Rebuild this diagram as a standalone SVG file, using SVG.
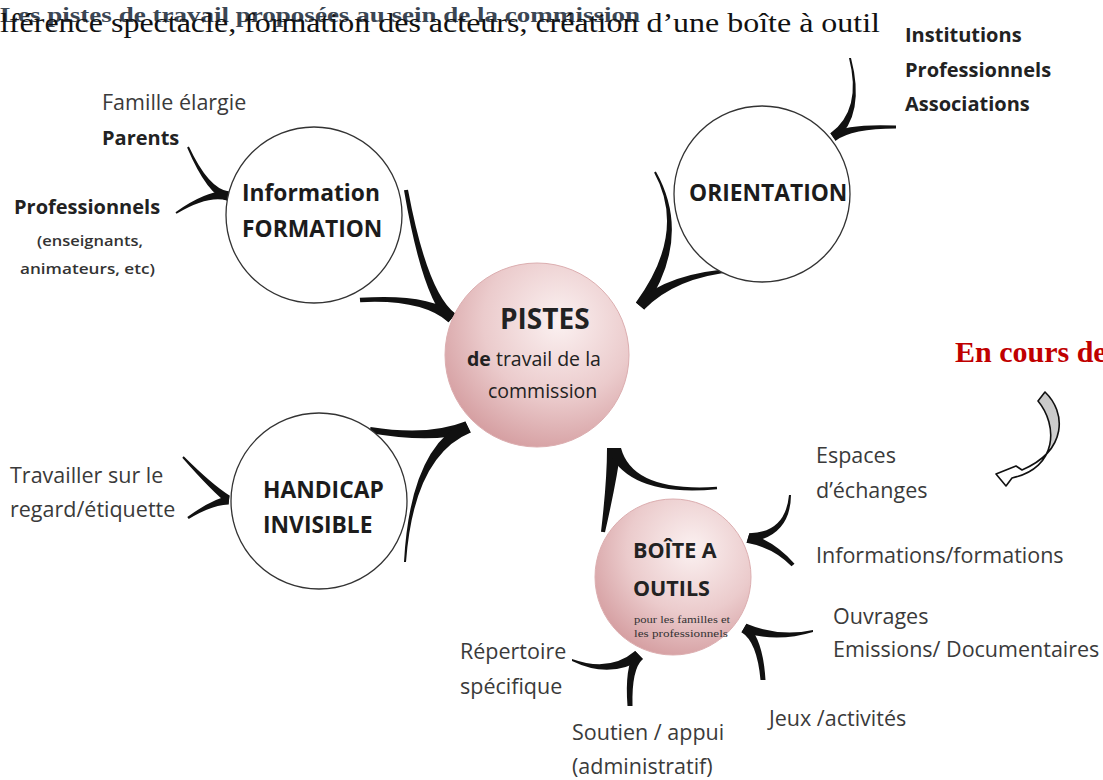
<svg xmlns="http://www.w3.org/2000/svg" width="1103" height="780" viewBox="0 0 1103 780">
<defs>
<radialGradient id="pink" cx="0.62" cy="0.32" r="0.75">
<stop offset="0" stop-color="#fbf1f1"/>
<stop offset="0.55" stop-color="#ebcbcc"/>
<stop offset="1" stop-color="#d39a9d"/>
</radialGradient>
<linearGradient id="arrowFill" x1="0" y1="0" x2="0" y2="1">
<stop offset="0" stop-color="#c8c8c8"/>
<stop offset="0.55" stop-color="#d0d0d0"/>
<stop offset="0.7" stop-color="#ffffff"/>
<stop offset="1" stop-color="#ffffff"/>
</linearGradient>
</defs>
<style>
.lbl{font-family:"Open Sans","DejaVu Sans",sans-serif;font-size:21.5px;fill:#3a3a3a}
.lblb{font-family:"Open Sans","DejaVu Sans",sans-serif;font-size:20px;font-weight:bold;fill:#222}
.sm{font-family:"Open Sans","DejaVu Sans",sans-serif;font-size:14px;font-weight:600;fill:#333}
.ttl{font-family:"Open Sans","DejaVu Sans",sans-serif;font-size:22.8px;font-weight:bold;fill:#1c1c1c}
.ctr{font-family:"Open Sans","DejaVu Sans",sans-serif;fill:#222}
.tiny{font-family:"Liberation Serif",serif;font-size:11px;fill:#333}
.wc{fill:#fff;stroke:#333;stroke-width:1.3}
.pc{fill:url(#pink);stroke:#dcaeb0;stroke-width:1}
.br{fill:#111;stroke:none}
</style>
<rect width="1103" height="780" fill="#fff"/>
<g id="header">
<text x="0" y="22" font-family="'Liberation Serif',serif" font-size="22" font-weight="bold" fill="#3b4653" textLength="640" lengthAdjust="spacingAndGlyphs">Les pistes de travail proposées au sein de la commission</text>
<text x="0" y="32" font-family="'Liberation Serif',serif" font-size="27" fill="#111" textLength="880" lengthAdjust="spacingAndGlyphs">lférence spectacle, formation des acteurs, création d’une boîte à outil</text>
</g>
<g id="connectors">
<path class="br" d="M187.1,147.4 Q207.4,195.1 227.1,200.4 L228.9,191.6 Q208.6,188.9 188.9,146.6 Z"/>
<path class="br" d="M176.5,213.8 Q207.4,195.1 227.1,200.4 L228.9,191.6 Q208.6,188.9 175.5,212.2 Z"/>
<path class="br" d="M404,190.3 Q422.6,299 448.5,322.3 L455.5,313.7 Q427.4,293 408,189.7 Z"/>
<path class="br" d="M360.2,302.2 Q422.6,299 448.5,322.3 L455.5,313.7 Q427.4,293 359.8,297.8 Z"/>
<path class="br" d="M849,57.9 Q862.2,109.4 830.4,133.3 L835.6,140.7 Q865.8,114.6 851,58.1 Z"/>
<path class="br" d="M896,125.5 Q848.2,123.4 830.4,133.3 L835.6,140.7 Q851.8,128.6 896,128.5 Z"/>
<path class="br" d="M654.1,172.5 Q687.1,232.5 635.9,302.4 L644.2,309.6 Q692.9,237.5 655.9,171.5 Z"/>
<path class="br" d="M734.9,268.5 Q669.1,272.5 635.9,302.4 L644.2,309.6 Q674.9,277.5 735.1,271.5 Z"/>
<path class="br" d="M182.3,457.7 Q211.6,491.1 228.5,504.5 L229.5,495.5 Q212.4,484.9 183.7,456.3 Z"/>
<path class="br" d="M188.7,519 Q211.6,505.1 228.5,504.5 L229.5,495.5 Q212.4,498.9 187.3,517 Z"/>
<path class="br" d="M369.5,433 Q431.9,443.75 470.7,432.4 L465.3,421.6 Q428.1,436.25 370.5,427 Z"/>
<path class="br" d="M406,562 Q413.9,455.75 470.7,432.4 L465.3,421.6 Q410.1,448.25 404,562 Z"/>
<path class="br" d="M605,532.3 Q616.9,480 621,448 L607,448 Q607.1,480 601,531.7 Z"/>
<path class="br" d="M716.9,486.8 Q632.8,492.2 621,448 L607,448 Q627.2,497.8 717.1,489.2 Z"/>
<path class="br" d="M789,495 Q785.5,532.5 749.4,533.2 L746.6,542.8 Q790.5,537.5 791,495 Z"/>
<path class="br" d="M794.5,563.7 Q776.2,542.3 749.4,533.2 L746.6,542.8 Q773.8,547.7 791.5,566.3 Z"/>
<path class="br" d="M813,630 Q778.9,637.2 746.5,623.7 L741.5,632.3 Q777.1,642.9 813,632 Z"/>
<path class="br" d="M765.5,680 Q763,638.25 746.5,623.7 L741.5,632.3 Q757,641.75 760.5,680 Z"/>
<path class="br" d="M572,661 Q610,679.5 642.9,658.9 L635.1,651.1 Q610,672.5 572,659 Z"/>
<path class="br" d="M632.5,706 Q631.5,668.7 642.9,658.9 L635.1,651.1 Q624.5,667.3 627.5,706 Z"/>
</g>
<g id="node-info">
<circle class="wc" cx="314" cy="215" r="88"/>
<text class="ttl" x="242" y="201">Information</text>
<text class="ttl" x="242" y="237">FORMATION</text>
</g>
<g id="node-orientation">
<circle class="wc" cx="762" cy="194" r="88"/>
<text class="ttl" x="689" y="201">ORIENTATION</text>
</g>
<g id="node-pistes">
<circle class="pc" cx="537" cy="355" r="92"/>
<text class="ctr" x="500" y="329" font-size="28" font-weight="bold" fill="#1c1c1c">PISTES</text>
<text class="ctr" x="467" y="366" font-size="19.5"><tspan font-weight="bold">de</tspan> travail de la</text>
<text class="ctr" x="488" y="398" font-size="19.5">commission</text>
</g>
<g id="node-handicap">
<circle class="wc" cx="319" cy="501" r="88"/>
<text class="ttl" x="263" y="498">HANDICAP</text>
<text class="ttl" x="263" y="533">INVISIBLE</text>
</g>
<g id="node-boite">
<circle class="pc" cx="673" cy="577" r="78"/>
<text class="ctr" x="633" y="558" font-size="21.5" font-weight="bold" fill="#1c1c1c">BOÎTE A</text>
<text class="ctr" x="633" y="596" font-size="21.5" font-weight="bold" fill="#1c1c1c">OUTILS</text>
<text class="tiny" x="634" y="623" textLength="96" lengthAdjust="spacingAndGlyphs">pour les familles et</text>
<text class="tiny" x="634" y="637" textLength="94" lengthAdjust="spacingAndGlyphs">les professionnels</text>
</g>
<g id="labels">
<text class="lbl" x="102" y="110">Famille élargie</text>
<text class="lblb" x="102" y="145">Parents</text>
<text class="lblb" x="14" y="214">Professionnels</text>
<text class="sm" x="37" y="246" textLength="106" lengthAdjust="spacingAndGlyphs">(enseignants,</text>
<text class="sm" x="20" y="274" textLength="135" lengthAdjust="spacingAndGlyphs">animateurs, etc)</text>
<text class="lblb" x="905" y="42">Institutions</text>
<text class="lblb" x="905" y="77">Professionnels</text>
<text class="lblb" x="905" y="111">Associations</text>
<text class="lbl" x="10" y="483">Travailler sur le</text>
<text class="lbl" x="10" y="517">regard/étiquette</text>
<text class="lbl" x="816" y="463">Espaces</text>
<text class="lbl" x="816" y="498">d’échanges</text>
<text class="lbl" x="816" y="563">Informations/formations</text>
<text class="lbl" x="833" y="624">Ouvrages</text>
<text class="lbl" x="833" y="657">Emissions/ Documentaires</text>
<text class="lbl" x="460" y="659">Répertoire</text>
<text class="lbl" x="460" y="694">spécifique</text>
<text class="lbl" x="769" y="726">Jeux /activités</text>
<text class="lbl" x="572" y="740">Soutien / appui</text>
<text class="lbl" x="572" y="774">(administratif)</text>
</g>
<g id="status">
<text x="955" y="362" font-family="'Liberation Serif',serif" font-size="30" font-weight="bold" fill="#c00000">En cours de</text>
<path d="M1038,401 L1045,392 C1066,412 1068,450 1022,470 L1016,466 L996,474 L1006,486 L1012,478 C1058,468 1058,425 1038,401 Z" fill="url(#arrowFill)" stroke="#111" stroke-width="1.6" stroke-linejoin="round"/>
</g>
</svg>
